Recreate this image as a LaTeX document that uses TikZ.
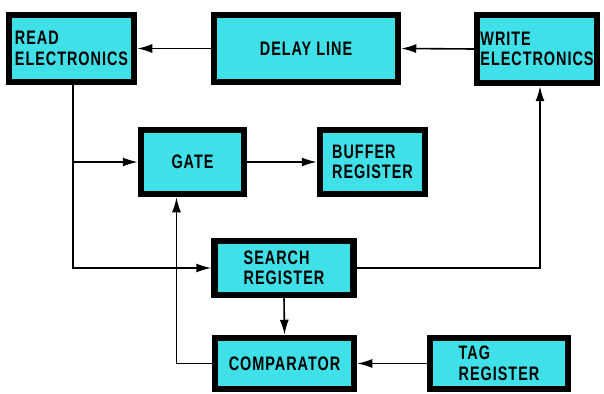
\documentclass[tikz,border=0pt]{standalone}
\usepackage{fontspec}
\usetikzlibrary{arrows.meta}
\newfontfamily\blockfont[FakeStretch=0.74,LetterSpace=5]{Liberation Sans Bold}
\definecolor{tapecyan}{RGB}{64,224,232}

\tikzset{
  blk/.style={draw=black, line width=6.5pt, fill=tapecyan, inner sep=0pt,
    align=left, font=\blockfont\fontsize{19.5}{20.5}\selectfont},
  flow/.style={line width=1.6pt, -{Latex[length=15pt,width=9pt]}},
}

\begin{document}
\begin{tikzpicture}[x=1pt,y=-1pt]
\useasboundingbox (0,0) rectangle (604,393);

\node[blk, minimum width=125, minimum height=67] (read) at (71.5,48.5) {READ\\ELECTRONICS};
\node[blk, minimum width=184, minimum height=67] (delay) at (306,48.5) {DELAY LINE};
\node[blk, minimum width=120, minimum height=68] (write) at (537,49) {WRITE\\ELECTRONICS};
\node[blk, minimum width=103, minimum height=64] (gate) at (192.5,162) {GATE};
\node[blk, minimum width=105, minimum height=64] (buffer) at (372.5,162) {BUFFER\\REGISTER};
\node[blk, minimum width=139, minimum height=54] (search) at (284,268) {SEARCH\\REGISTER};
\node[blk, minimum width=139, minimum height=51] (comp) at (284.5,363.5) {COMPARATOR};
\node[blk, minimum width=138, minimum height=51] (tag) at (499,363.5) {TAG\\REGISTER};

\coordinate (split) at (73,162);
\coordinate (back) at (176.5,363.5);

% data loop
\draw[flow] (write.west) -- (delay.east);
\draw[flow] (delay.west) -- (read.east);
\draw[flow] (read.south -| split) |- (search.west);
\draw[flow] (split) -- (gate.west);
\draw[flow] (gate.east) -- (buffer.west);
\draw[flow] (search.east) -| ([xshift=3pt]write.south);

% compare path
\draw[flow] (search.south) -- (comp.north);
\draw[flow] (tag.west) -- (comp.east);
\draw[flow] (comp.west) -- (back) -- (back |- gate.south);
\end{tikzpicture}
\end{document}
